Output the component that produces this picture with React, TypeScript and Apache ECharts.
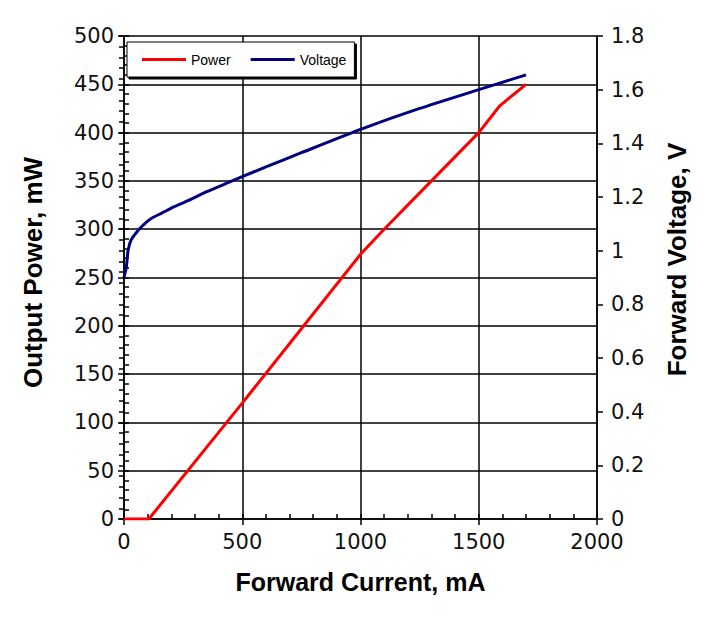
import React, { useEffect, useRef } from "react";
import * as echarts from "echarts";

const currentPower = [0, 105, 500, 750, 1000, 1100, 1300, 1500, 1590, 1700];
const powerValues = [0, 0, 120, 197, 274, 300, 350, 400, 428, 450];

const currentVoltage = [0, 10, 17, 30, 50, 75, 115, 160, 215, 280, 350, 450, 500, 600, 750, 1000, 1250, 1500, 1700];
const voltageValues = [0.9, 0.94, 1.0, 1.04, 1.065, 1.09, 1.12, 1.14, 1.165, 1.19, 1.22, 1.257, 1.276, 1.312, 1.365, 1.452, 1.53, 1.6, 1.655];

const seriesNames = ["Power", "Voltage"];
const seriesColors = ["#ff0000", "#000080"];
const xTitle = "Forward Current, mA";
const yLeftTitle = "Output Power, mW";
const yRightTitle = "Forward Voltage, V";

const FONT = "'Liberation Sans', Arial, sans-serif";
const TICK_FONT = "'DejaVu Sans', 'Liberation Sans', sans-serif";
const LINE = { color: "#000", width: 1.5 };

export default function App() {
  const ref = useRef<HTMLDivElement>(null);
  useEffect(() => {
    if (!ref.current) return;
    const chart = echarts.init(ref.current, undefined, { renderer: "svg" });
    const labelStyle = { fontSize: 21, color: "#111", fontFamily: TICK_FONT };
    const nameStyle = { fontSize: 26, fontWeight: "bold" as const, color: "#000", fontFamily: FONT };
    chart.setOption({
      animation: false,
      backgroundColor: "#fff",
      grid: { left: 124, right: 117, top: 36, bottom: 99, containLabel: false },
      legend: {
        left: 127,
        top: 42,
        data: seriesNames.map((n) => ({ name: n, icon: "rect" })),
        itemWidth: 44,
        itemHeight: 3,
        itemGap: 20,
        padding: [9, 8, 9, 15],
        borderColor: "#000",
        borderWidth: 1,
        backgroundColor: "#fff",
        shadowColor: "#000",
        shadowOffsetX: 2,
        shadowOffsetY: 2,
        shadowBlur: 0,
        textStyle: { fontSize: 14, color: "#000", fontFamily: FONT, lineHeight: 17 },
      },
      xAxis: [
        {
          type: "value",
          min: 0,
          max: 2000,
          interval: 500,
          position: "bottom",
          axisLine: { show: true, onZero: false, lineStyle: LINE },
          axisTick: { show: true, length: 6, lineStyle: LINE },
          axisLabel: { ...labelStyle, margin: 12, formatter: (v: number) => String(v) },
          splitLine: { show: true, lineStyle: LINE },
          name: xTitle,
          nameLocation: "middle",
          nameGap: 50,
          nameTextStyle: { ...nameStyle, fontSize: 25 },
        },
        {
          type: "value",
          min: 0,
          max: 2000,
          interval: 100,
          position: "bottom",
          axisLine: { show: false },
          axisTick: { show: true, inside: true, length: 5, lineStyle: LINE },
          axisLabel: { show: false },
          splitLine: { show: false },
        },
      ],
      yAxis: [
        {
          type: "value",
          min: 0,
          max: 500,
          interval: 50,
          position: "left",
          axisLine: { show: true, onZero: false, lineStyle: LINE },
          axisTick: { show: true, length: 6, lineStyle: LINE },
          axisLabel: { ...labelStyle, margin: 10 },
          splitLine: { show: true, lineStyle: LINE },
          name: yLeftTitle,
          nameLocation: "middle",
          nameGap: 78,
          nameTextStyle: { ...nameStyle, padding: [0, 0, 0, 10] },
        },
        {
          type: "value",
          min: 0,
          max: 1.8,
          interval: 0.2,
          position: "right",
          axisLine: { show: true, onZero: false, lineStyle: LINE },
          axisTick: { show: true, length: 6, lineStyle: LINE },
          axisLabel: { ...labelStyle, margin: 14 },
          splitLine: { show: false },
          name: yRightTitle,
          nameLocation: "middle",
          nameGap: 67,
          nameTextStyle: { ...nameStyle, fontSize: 26, padding: [0, 0, 0, 36] },
        },
        {
          type: "value",
          min: 0,
          max: 500,
          interval: 10,
          position: "left",
          axisLine: { show: false },
          axisTick: { show: true, inside: true, length: 5, lineStyle: LINE },
          axisLabel: { show: false },
          splitLine: { show: false },
        },
        {
          type: "value",
          min: 0,
          max: 1.8,
          interval: 0.04,
          position: "right",
          axisLine: { show: false },
          axisTick: { show: true, inside: true, length: 5, lineStyle: LINE },
          axisLabel: { show: false },
          splitLine: { show: false },
        },
      ],
      series: [
        {
          name: seriesNames[0],
          type: "line",
          xAxisIndex: 0,
          yAxisIndex: 0,
          symbol: "none",
          lineStyle: { color: seriesColors[0], width: 3 },
          itemStyle: { color: seriesColors[0] },
          data: currentPower.map((c, i) => [c, powerValues[i]]),
        },
        {
          name: seriesNames[1],
          type: "line",
          xAxisIndex: 0,
          yAxisIndex: 1,
          symbol: "none",
          smooth: 0.2,
          lineStyle: { color: seriesColors[1], width: 3 },
          itemStyle: { color: seriesColors[1] },
          data: currentVoltage.map((c, i) => [c, voltageValues[i]]),
        },
      ],
    });
    return () => chart.dispose();
  }, []);
  return (
    <div
      ref={ref}
      style={{ position: "fixed", left: 0, top: 0, width: 714, height: 618 }}
    />
  );
}
